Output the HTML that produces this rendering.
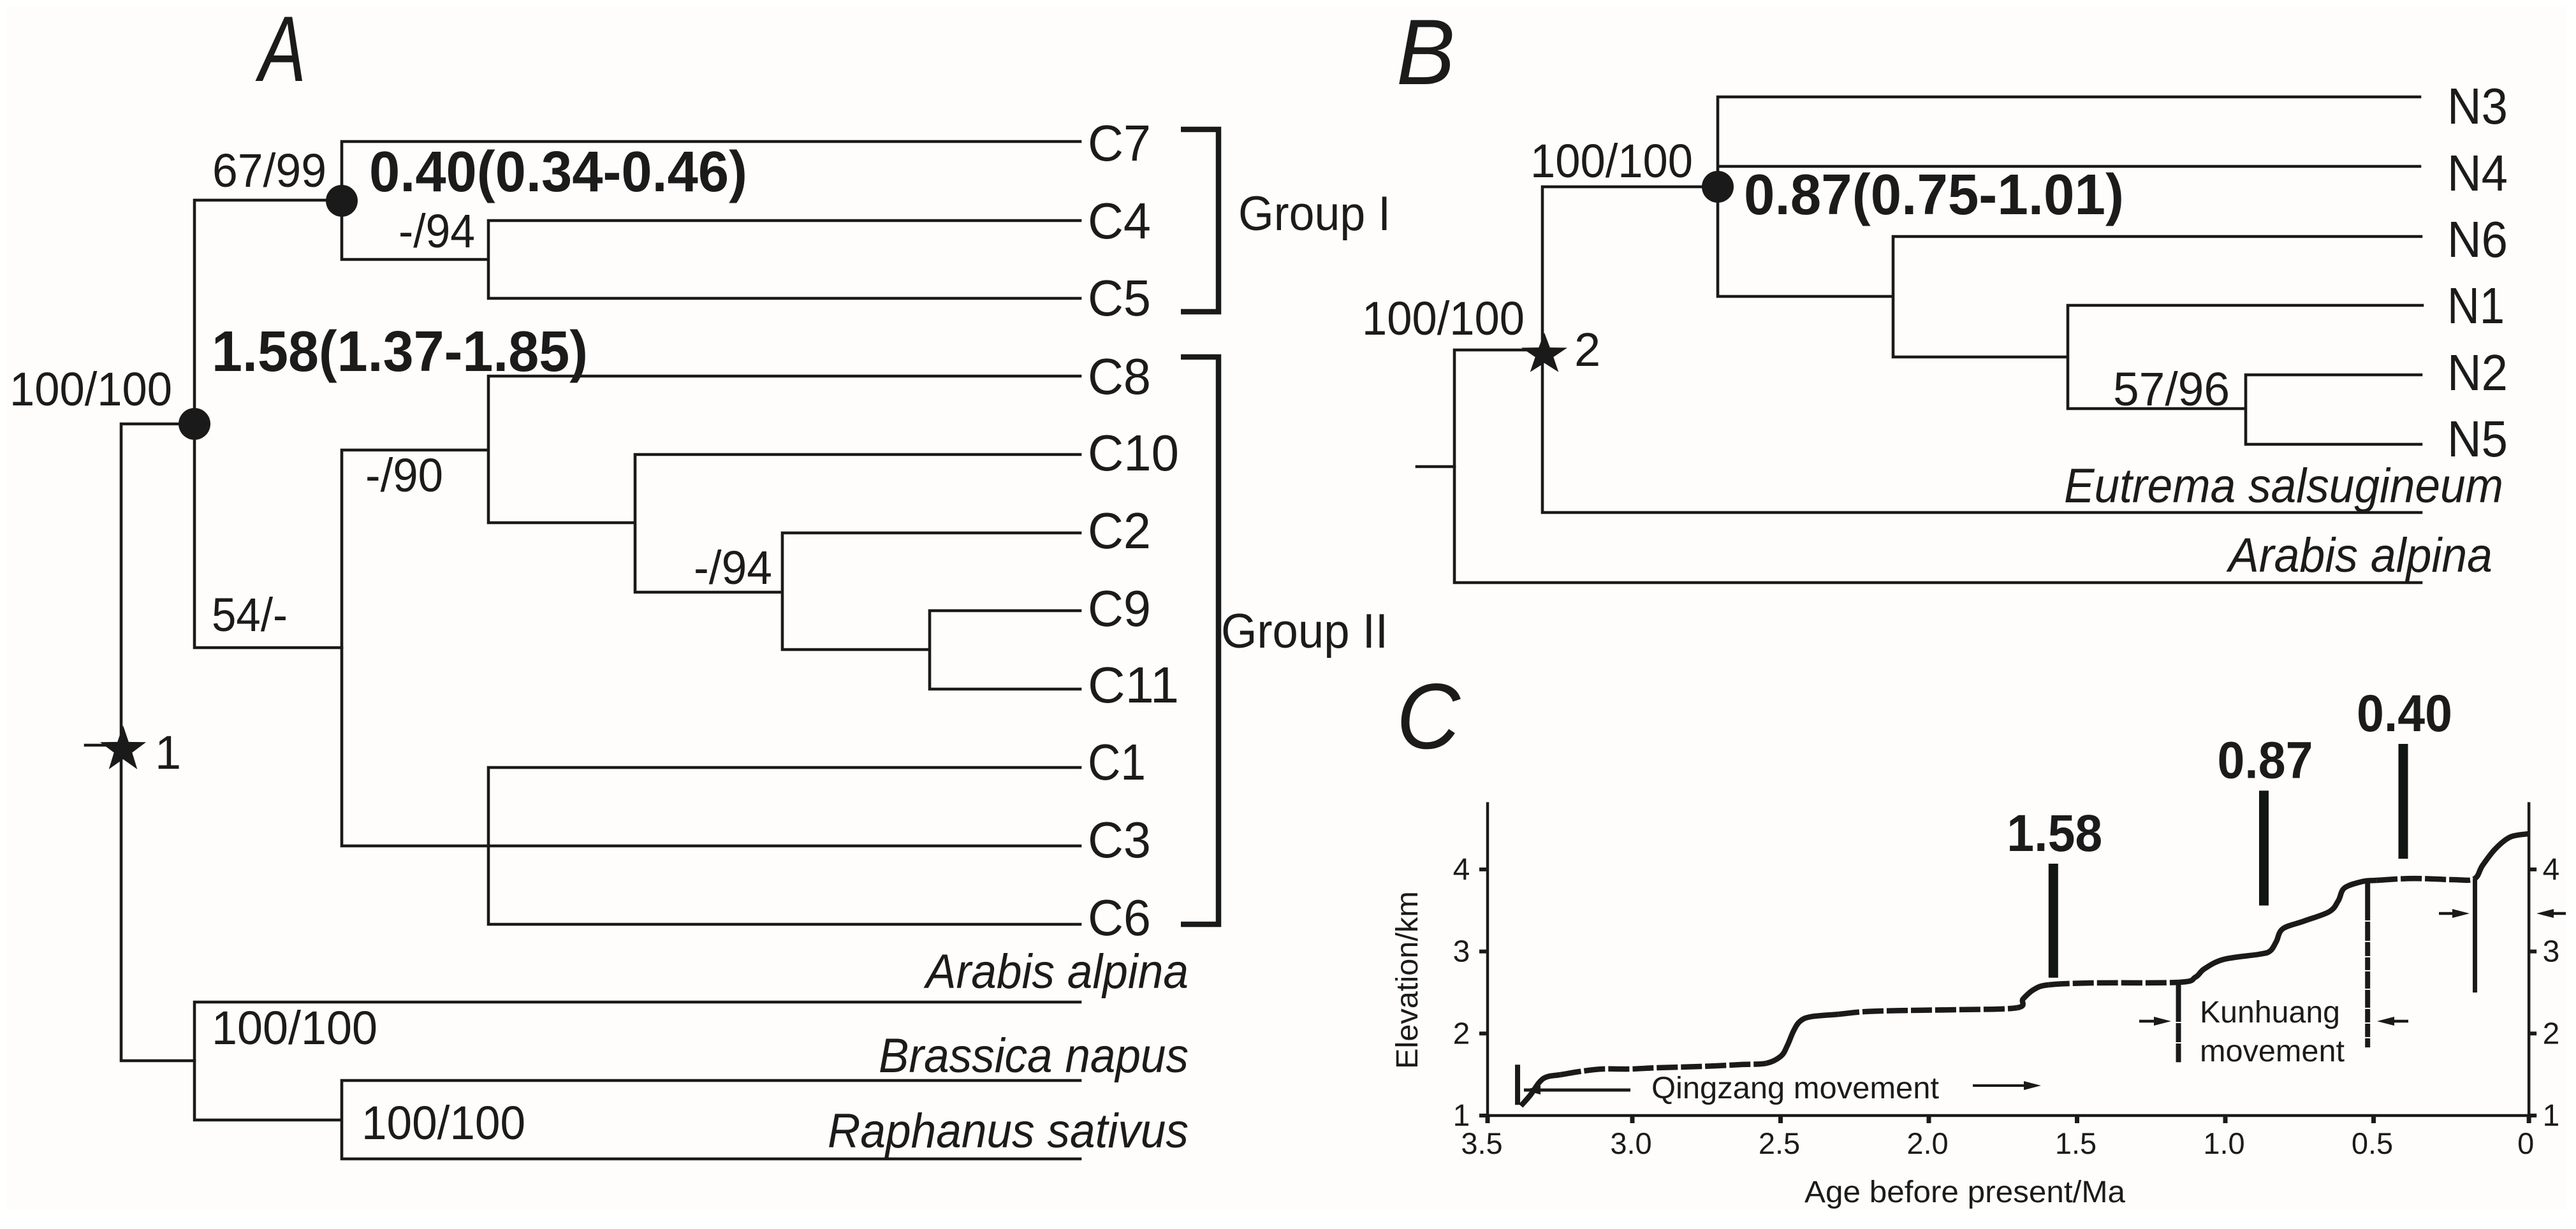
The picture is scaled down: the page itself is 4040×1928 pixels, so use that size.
<!DOCTYPE html>
<html lang="en">
<head>
<meta charset="utf-8">
<title>Phylogenetic trees and elevation history</title>
<style>
html,body{margin:0;padding:0;background:#ffffff;}
svg{display:block;}
text{font-family:"Liberation Sans",Arial,sans-serif;fill:#1b1b1b;}
.tip{font-size:80px;}
.sup{font-size:74px;}
.grp{font-size:76px;}
.sp{font-size:76px;font-style:italic;}
.big{font-size:90px;font-weight:bold;}
.pan{font-size:146px;font-style:italic;}
.sm{font-size:48px;}
.br{stroke:#1a1a1a;stroke-width:4.6;fill:none;stroke-linecap:square;}
.brk{stroke:#1a1a1a;stroke-width:8.5;fill:none;}
</style>
</head>
<body>
<svg id="fig" xmlns="http://www.w3.org/2000/svg" width="4040" height="1928" viewBox="0 0 4040 1928">
<rect x="0" y="0" width="4040" height="1928" fill="#ffffff"/>
<rect x="10" y="10" width="4014" height="1888" fill="#fefdfb"/>

<!-- Panel A -->
<g>
<text class="pan" x="406" y="127" textLength="74" lengthAdjust="spacingAndGlyphs">A</text>
<g>
<path class="br" d="M190 665V1664M190 665H305M190 1664H305"/>
<path class="br" d="M305 314V1016M305 314H536M305 1016H536"/>
<path class="br" d="M536 222V407M536 222H1694M536 407H766M766 346V468M766 346H1694M766 468H1694"/>
<path class="br" d="M536 706V1327M536 706H766M536 1327H1694M766 590V820M766 590H1694M766 820H996M996 713V929M996 713H1694M996 929H1227M1227 836V1019M1227 836H1694M1227 1019H1458M1458 958V1081M1458 958H1694M1458 1081H1694M766 1204V1450M766 1204H1694M766 1450H1694"/>
<path class="br" d="M305 1572V1757M305 1572H1694M305 1757H536M536 1695V1818M536 1695H1694M536 1818H1694"/>
<path class="br" d="M134 1169H190"/>
</g>
<circle cx="305" cy="665" r="25" fill="#1a1a1a"/>
<circle cx="536" cy="315" r="25" fill="#1a1a1a"/>
<polygon transform="translate(193 1176)" points="0,-38 8.8,-12.1 36.1,-11.7 14.3,4.6 22.3,30.7 0,15 -22.3,30.7 -14.3,4.6 -36.1,-11.7 -8.8,-12.1" fill="#1a1a1a"/>
<text class="sup" x="243" y="1206">1</text>

<text class="tip" x="1706" y="252" textLength="99" lengthAdjust="spacingAndGlyphs">C7</text>
<text class="tip" x="1706" y="374" textLength="99" lengthAdjust="spacingAndGlyphs">C4</text>
<text class="tip" x="1706" y="495" textLength="99" lengthAdjust="spacingAndGlyphs">C5</text>
<text class="tip" x="1706" y="618" textLength="99" lengthAdjust="spacingAndGlyphs">C8</text>
<text class="tip" x="1706" y="738" textLength="143" lengthAdjust="spacingAndGlyphs">C10</text>
<text class="tip" x="1706" y="860" textLength="99" lengthAdjust="spacingAndGlyphs">C2</text>
<text class="tip" x="1706" y="982" textLength="99" lengthAdjust="spacingAndGlyphs">C9</text>
<text class="tip" x="1706" y="1102" textLength="143" lengthAdjust="spacingAndGlyphs">C11</text>
<text class="tip" x="1706" y="1223" textLength="91" lengthAdjust="spacingAndGlyphs">C1</text>
<text class="tip" x="1706" y="1345" textLength="99" lengthAdjust="spacingAndGlyphs">C3</text>
<text class="tip" x="1706" y="1467" textLength="99" lengthAdjust="spacingAndGlyphs">C6</text>

<text class="sp" x="1452" y="1550" textLength="412" lengthAdjust="spacingAndGlyphs">Arabis alpina</text>
<text class="sp" x="1378" y="1682" textLength="486" lengthAdjust="spacingAndGlyphs">Brassica napus</text>
<text class="sp" x="1298" y="1800" textLength="566" lengthAdjust="spacingAndGlyphs">Raphanus sativus</text>

<text class="sup" x="333" y="293" textLength="179" lengthAdjust="spacingAndGlyphs">67/99</text>
<text class="big" x="579" y="300" textLength="593" lengthAdjust="spacingAndGlyphs">0.40(0.34-0.46)</text>
<text class="sup" x="625" y="388" textLength="120" lengthAdjust="spacingAndGlyphs">-/94</text>
<text class="big" x="332" y="582" textLength="590" lengthAdjust="spacingAndGlyphs">1.58(1.37-1.85)</text>
<text class="sup" x="15" y="636" textLength="255" lengthAdjust="spacingAndGlyphs">100/100</text>
<text class="sup" x="573" y="771" textLength="122" lengthAdjust="spacingAndGlyphs">-/90</text>
<text class="sup" x="1088" y="916" textLength="123" lengthAdjust="spacingAndGlyphs">-/94</text>
<text class="sup" x="332" y="990" textLength="119" lengthAdjust="spacingAndGlyphs">54/-</text>
<text class="sup" x="332" y="1638" textLength="260" lengthAdjust="spacingAndGlyphs">100/100</text>
<text class="sup" x="567" y="1787" textLength="257" lengthAdjust="spacingAndGlyphs">100/100</text>

<path class="brk" d="M1852 203H1911V489H1852"/>
<path class="brk" d="M1852 560H1911V1450H1852"/>
<text class="grp" x="1942" y="361" textLength="239" lengthAdjust="spacingAndGlyphs">Group I</text>
<text class="grp" x="1915" y="1016" textLength="262" lengthAdjust="spacingAndGlyphs">Group II</text>
</g>

<!-- Panel B -->
<g>
<text class="pan" x="2190" y="132" textLength="92" lengthAdjust="spacingAndGlyphs">B</text>
<g>
<path class="br" d="M2222 732H2281"/>
<path class="br" d="M2281 549V914M2281 914H3797M2281 549H2419"/>
<path class="br" d="M2419 293V804M2419 804H3797M2419 293H2694"/>
<path class="br" d="M2694 152V465M2694 152H3795M2694 261H3795M2694 465H2969M2969 371V560M2969 371H3797M2969 560H3243M3243 479V641M3243 479H3799M3243 641H3522M3522 588V697M3522 588H3797M3522 697H3797"/>
</g>
<circle cx="2694" cy="293" r="25" fill="#1a1a1a"/>
<polygon transform="translate(2422 556) scale(1 .9)" points="0,-38 8.8,-12.1 36.1,-11.7 14.3,4.6 22.3,30.7 0,15 -22.3,30.7 -14.3,4.6 -36.1,-11.7 -8.8,-12.1" fill="#1a1a1a"/>
<text class="sup" x="2469" y="574">2</text>

<text class="tip" x="3838" y="194" textLength="95" lengthAdjust="spacingAndGlyphs">N3</text>
<text class="tip" x="3838" y="299" textLength="95" lengthAdjust="spacingAndGlyphs">N4</text>
<text class="tip" x="3838" y="403" textLength="95" lengthAdjust="spacingAndGlyphs">N6</text>
<text class="tip" x="3838" y="507" textLength="90" lengthAdjust="spacingAndGlyphs">N1</text>
<text class="tip" x="3838" y="612" textLength="95" lengthAdjust="spacingAndGlyphs">N2</text>
<text class="tip" x="3838" y="716" textLength="95" lengthAdjust="spacingAndGlyphs">N5</text>
<text class="sp" x="3237" y="788" textLength="689" lengthAdjust="spacingAndGlyphs">Eutrema salsugineum</text>
<text class="sp" x="3495" y="897" textLength="414" lengthAdjust="spacingAndGlyphs">Arabis alpina</text>

<text class="sup" x="2400" y="278" textLength="255" lengthAdjust="spacingAndGlyphs">100/100</text>
<text class="big" x="2735" y="336" textLength="596" lengthAdjust="spacingAndGlyphs">0.87(0.75-1.01)</text>
<text class="sup" x="2136" y="525" textLength="255" lengthAdjust="spacingAndGlyphs">100/100</text>
<text class="sup" x="3314" y="636" textLength="183" lengthAdjust="spacingAndGlyphs">57/96</text>
</g>

<!-- Panel C -->
<g id="chart">
<text class="pan" x="2190" y="1174" textLength="100" lengthAdjust="spacingAndGlyphs">C</text>
<text class="sm" transform="translate(2223 1677) rotate(-90)" textLength="279" lengthAdjust="spacingAndGlyphs">Elevation/km</text>
<text class="sm" x="2830" y="1886" textLength="503" lengthAdjust="spacingAndGlyphs">Age before present/Ma</text>
<text class="sm" x="2590" y="1723" textLength="451" lengthAdjust="spacingAndGlyphs">Qingzang movement</text>
<text class="sm" x="3450" y="1604" textLength="220" lengthAdjust="spacingAndGlyphs">Kunhuang</text>
<text class="sm" x="3450" y="1665" textLength="227" lengthAdjust="spacingAndGlyphs">movement</text>
<g fill="#1a1a1a" stroke="#1a1a1a">
<path d="M2390 1710H2557" stroke-width="5"/>
<polygon points="2390,1710 2416,1703 2416,1717" stroke="none"/>
<path d="M3094 1703H3178" stroke-width="4"/>
<polygon points="3201,1703 3174,1696 3174,1710" stroke="none"/>
<path d="M3355 1602H3385" stroke-width="4.5"/>
<polygon points="3405,1602 3378,1595 3378,1609" stroke="none"/>
<path d="M3745 1602H3777" stroke-width="4.5"/>
<polygon points="3728,1602 3755,1595 3755,1609" stroke="none"/>
<path d="M3825 1433H3855" stroke-width="4.5"/>
<polygon points="3873,1433 3846,1426 3846,1440" stroke="none"/>
<path d="M3995 1433H4024" stroke-width="4.5"/>
<polygon points="3978,1433 4005,1426 4005,1440" stroke="none"/>
</g>
</g>
</svg>

<script>
// Chart data (panel C): age in Ma, elevation in km
const xTickValues = [3.5, 3.0, 2.5, 2.0, 1.5, 1.0, 0.5, -0.024];
const xTickLabels = ["3.5", "3.0", "2.5", "2.0", "1.5", "1.0", "0.5", "0"];
const yTickValues = [1, 2, 3, 4];
const yTickLabels = ["1", "2", "3", "4"];
const curveAges = [3.376, 3.344, 3.312, 3.286, 3.243, 3.178, 3.101, 3.006, 2.914, 2.770, 2.628, 2.548, 2.499, 2.477, 2.456, 2.434, 2.398, 2.305, 2.211, 2.060, 1.903, 1.703, 1.682, 1.645, 1.596, 1.452, 1.157, 1.101, 1.071, 1.006, 0.886, 0.849, 0.828, 0.806, 0.735, 0.649, 0.619, 0.598, 0.538, 0.490, 0.366, 0.232, 0.161, 0.133, 0.090, 0.039, -0.022];
const curveElevations = [1.117, 1.249, 1.412, 1.474, 1.497, 1.536, 1.567, 1.567, 1.583, 1.598, 1.622, 1.637, 1.723, 1.855, 2.033, 2.150, 2.204, 2.235, 2.267, 2.282, 2.290, 2.313, 2.422, 2.538, 2.593, 2.616, 2.624, 2.686, 2.787, 2.903, 2.966, 3.005, 3.121, 3.277, 3.370, 3.486, 3.618, 3.774, 3.852, 3.867, 3.890, 3.875, 3.883, 4.046, 4.248, 4.395, 4.434];
const brokenSpanOld = [3.25, 2.31, 1.596, 0.49];
const brokenSpanYoung = [2.55, 1.703, 1.157, 0.161];
const faultAges = [3.387, 1.158, 0.52, 0.158];
const faultTops = [1.62, 2.624, 3.86, 3.883];
const faultBottoms = [1.13, 1.65, 1.83, 2.50];
const eventAges = [1.58, 0.87, 0.40];
const eventLabels = ["1.58", "0.87", "0.40"];
const eventTops = [4.07, 4.96, 5.53];
const eventBottoms = [2.68, 3.56, 4.13];
const yAxisTop = 4.82;

const NS = 'http://www.w3.org/2000/svg';
const chart = document.getElementById('chart');
function x(age) { return 3955 - 465 * age; }
function y(elev) { return 1750 - 128.7 * (elev - 1); }
function make(tag, attrs, text) {
  const el = document.createElementNS(NS, tag);
  for (const k in attrs) el.setAttribute(k, attrs[k]);
  if (text !== undefined) el.textContent = text;
  chart.appendChild(el);
  return el;
}
const INK = '#1a1a1a';
const leftX = 2333;
const rightX = x(xTickValues[xTickValues.length - 1]);

const xAxis = make('line', {x1: leftX - 13, x2: rightX + 12, y1: y(1), y2: y(1), stroke: INK, 'stroke-width': 4.5});


const yAxisLeft = make('line', {x1: leftX, x2: leftX, y1: y(yAxisTop), y2: y(1) + 12, stroke: INK, 'stroke-width': 4.5});


const yAxisRight = make('line', {x1: rightX, x2: rightX, y1: y(yAxisTop), y2: y(1) + 12, stroke: INK, 'stroke-width': 4.5});



xTickValues.forEach(function (v, i) {
  const px = i === 0 ? leftX : x(v);
  const tick = make('line', {x1: px, x2: px, y1: y(1), y2: y(1) + 12, stroke: INK, 'stroke-width': 7});
  
  
  const shift = i === 0 ? -9 : (i === xTickValues.length - 1 ? -5 : -2);
  const label = make('text', {x: px + shift, y: 1810, 'text-anchor': 'middle', 'font-size': 47}, xTickLabels[i]);
  
  
});

yTickValues.forEach(function (v, i) {
  const tl = make('line', {x1: leftX - 13, x2: leftX, y1: y(v), y2: y(v), stroke: INK, 'stroke-width': 6});
  
  
  const tr = make('line', {x1: rightX, x2: rightX + 12, y1: y(v), y2: y(v), stroke: INK, 'stroke-width': 6});
  
  
  const ll = make('text', {x: 2292, y: y(v) + 16, 'text-anchor': 'middle', 'font-size': 48}, yTickLabels[i]);
  
  
  const lr = make('text', {x: 4001, y: y(v) + 16, 'text-anchor': 'middle', 'font-size': 48}, yTickLabels[i]);
  
  
});

// Elevation curve: smooth spline through the read points, broken into lens-like dashes on flat stretches
function isBroken(age) {
  return brokenSpanOld.some(function (old, s) { return age <= old && age >= brokenSpanYoung[s]; });
}
function pt(i) {
  const j = Math.max(0, Math.min(curveAges.length - 1, i));
  return [x(curveAges[j]), y(curveElevations[j])];
}
let runPath = '';
let runBroken = null;
function flushRun() {
  if (!runPath) return;
  const attrs = {d: runPath, fill: 'none', stroke: INK, 'stroke-width': 8.5, 'stroke-linejoin': 'round'};
  if (runBroken) attrs['stroke-dasharray'] = '33 5';
  const seg = make('path', attrs);
  
  
  runPath = '';
}
for (let i = 0; i < curveAges.length - 1; i++) {
  const broken = isBroken((curveAges[i] + curveAges[i + 1]) / 2);
  if (broken !== runBroken) {
    flushRun();
    runBroken = broken;
  }
  const p0 = pt(i - 1), p1 = pt(i), p2 = pt(i + 1), p3 = pt(i + 2);
  if (!runPath) runPath = 'M' + p1[0].toFixed(1) + ' ' + p1[1].toFixed(1);
  runPath += 'C' + (p1[0] + (p2[0] - p0[0]) / 6).toFixed(1) + ' ' + (p1[1] + (p2[1] - p0[1]) / 6).toFixed(1) + ' ' +
    (p2[0] - (p3[0] - p1[0]) / 6).toFixed(1) + ' ' + (p2[1] - (p3[1] - p1[1]) / 6).toFixed(1) + ' ' +
    p2[0].toFixed(1) + ' ' + p2[1].toFixed(1);
}
flushRun();

faultAges.forEach(function (a, i) {
  const attrs = {x1: x(a), x2: x(a), y1: y(faultTops[i]), y2: y(faultBottoms[i]), stroke: INK, 'stroke-width': i === 3 ? 7 : 8};
  if (i === 1) attrs['stroke-dasharray'] = '62 2 30 2';
  if (i === 2) attrs['stroke-dasharray'] = '62 2 30 2 22 2 20 2 27 2 28 2 21 2 21 2';
  const f = make('line', attrs);
  
  
});

eventAges.forEach(function (a, i) {
  const b = make('rect', {x: x(a) - 7.5, y: y(eventTops[i]), width: 15, height: y(eventBottoms[i]) - y(eventTops[i]), fill: '#111513'});
  
  
  const t = make('text', {x: x(a) + 2, y: y(eventTops[i]) - 20, 'text-anchor': 'middle', 'font-size': 82, 'font-weight': 'bold', textLength: 150, lengthAdjust: 'spacingAndGlyphs'}, eventLabels[i]);
  
  
});
</script>
</body>
</html>
